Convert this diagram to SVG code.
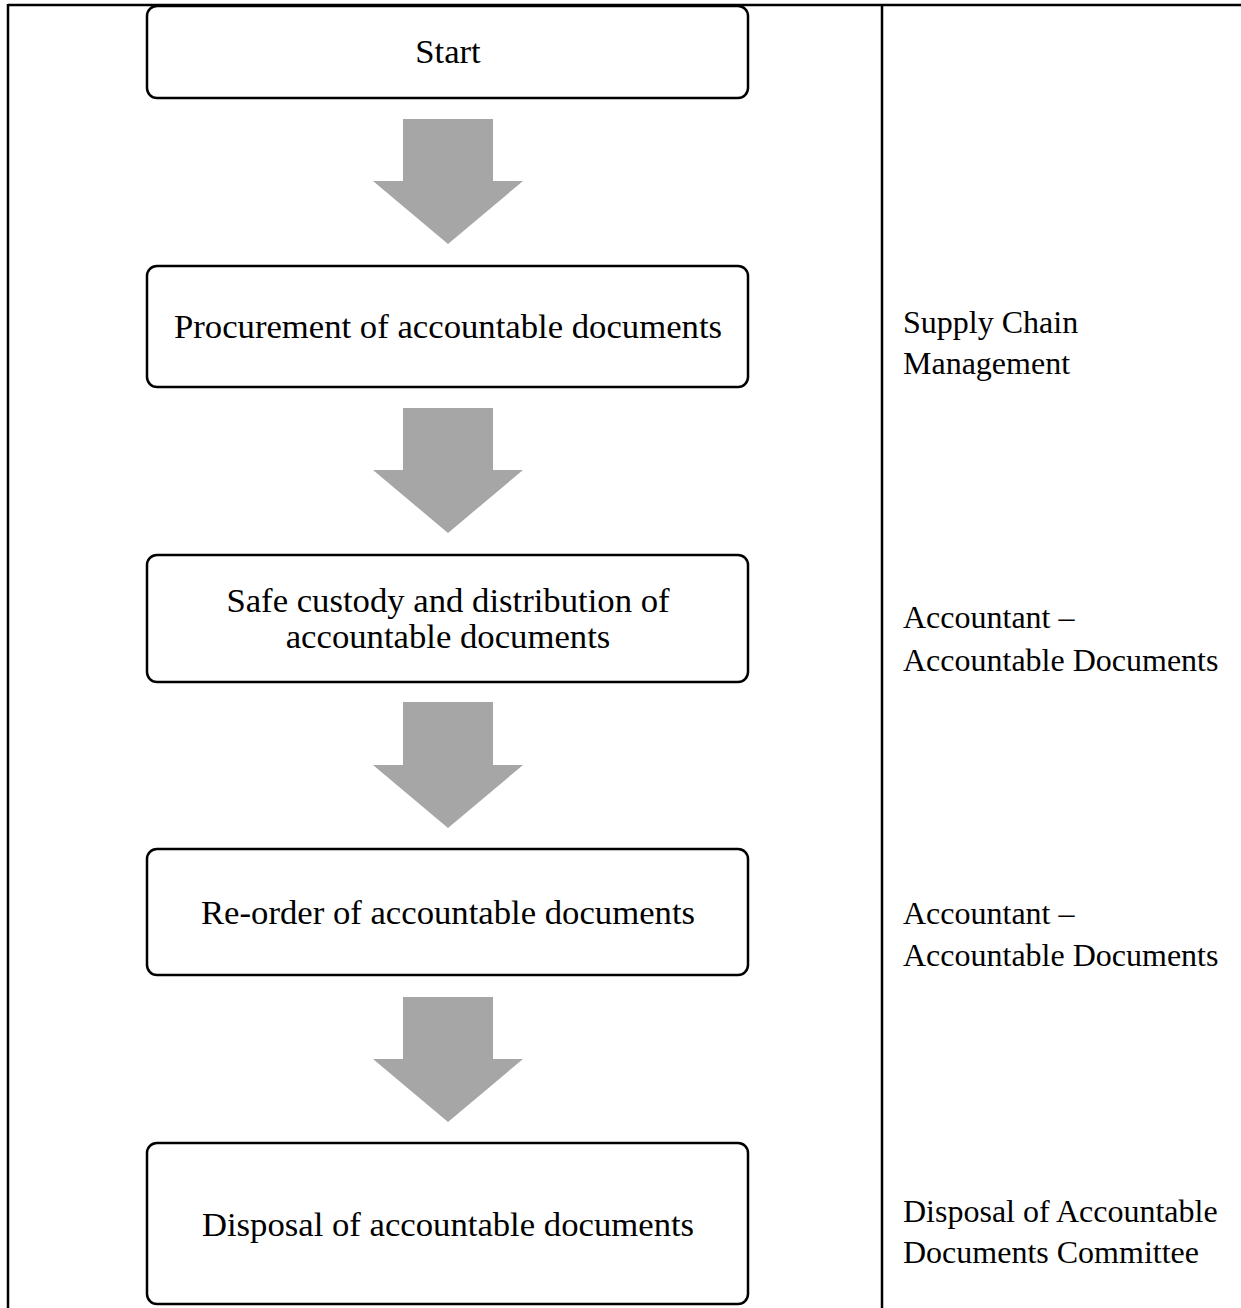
<svg xmlns="http://www.w3.org/2000/svg" width="1241" height="1308" viewBox="0 0 1241 1308">
<style>
.frame{stroke:#000;stroke-width:2.5;fill:none}
.box{fill:#fff;stroke:#000;stroke-width:2.5}
.arrow{fill:#a6a6a6;stroke:none}
.t{font-family:"Liberation Serif","Times New Roman",serif;font-size:34.7px;fill:#000;text-anchor:middle}
.r{font-family:"Liberation Serif","Times New Roman",serif;font-size:32px;fill:#000}
</style>
<rect width="1241" height="1308" fill="#fff"/>
<g id="frame">
<line class="frame" x1="8" y1="5" x2="1241" y2="5"/>
<line class="frame" x1="8" y1="4" x2="8" y2="1308"/>
<line class="frame" x1="882" y1="5" x2="882" y2="1308"/>
</g>
<g id="connectors">
<path class="arrow" d="M403,119 H493 V181 H523 L448,244 L373,181 H403 Z"/>
<path class="arrow" d="M403,408 H493 V470 H523 L448,533 L373,470 H403 Z"/>
<path class="arrow" d="M403,702 H493 V765 H523 L448,828 L373,765 H403 Z"/>
<path class="arrow" d="M403,997 H493 V1059 H523 L448,1122 L373,1059 H403 Z"/>
</g>
<g id="n-start">
<rect class="box" x="147" y="6" width="601" height="92" rx="10"/>
<text class="t" x="448" y="63">Start</text>
</g>
<g id="n-procurement">
<rect class="box" x="147" y="266" width="601" height="121" rx="10"/>
<text class="t" x="448" y="338">Procurement of accountable documents</text>
</g>
<g id="n-custody">
<rect class="box" x="147" y="555" width="601" height="127" rx="10"/>
<text class="t" x="448" y="612">Safe custody and distribution of</text>
<text class="t" x="448" y="648">accountable documents</text>
</g>
<g id="n-reorder">
<rect class="box" x="147" y="849" width="601" height="126" rx="10"/>
<text class="t" x="448" y="924">Re-order of accountable documents</text>
</g>
<g id="n-disposal">
<rect class="box" x="147" y="1143" width="601" height="161" rx="10"/>
<text class="t" x="448" y="1236">Disposal of accountable documents</text>
</g>
<g id="responsible">
<text class="r" x="903" y="333">Supply Chain</text>
<text class="r" x="903" y="374">Management</text>
<text class="r" x="903" y="628">Accountant –</text>
<text class="r" x="903" y="671">Accountable Documents</text>
<text class="r" x="903" y="924">Accountant –</text>
<text class="r" x="903" y="966">Accountable Documents</text>
<text class="r" x="903" y="1222">Disposal of Accountable</text>
<text class="r" x="903" y="1263">Documents Committee</text>
</g>
</svg>
